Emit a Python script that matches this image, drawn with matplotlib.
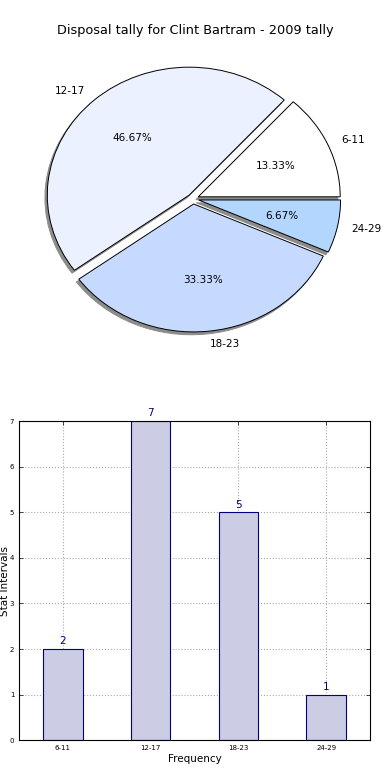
import matplotlib
matplotlib.use("Agg")
import matplotlib.pyplot as plt

# data
intervals = ["6-11", "12-17", "18-23", "24-29"]
counts = [2, 7, 5, 1]
pie_colors = ["#ffffff", "#ebf1ff", "#c6d9ff", "#b3d6ff"]
explode = [0.04, 0.04, 0.04, 0.04]
title = "Disposal tally for Clint Bartram - 2009 tally"

fig = plt.figure(figsize=(3.9, 7.8), dpi=100)
fig.patch.set_facecolor("white")

# pie chart (old-style, not forced circular)
ax1 = fig.add_axes([0.04, 0.54, 0.91, 0.41])
wedges, texts, autotexts = ax1.pie(
    counts, labels=intervals, colors=pie_colors, explode=explode,
    autopct="%1.2f%%", startangle=0,
    shadow=dict(ox=-0.012, oy=-0.016, facecolor="#8c8c8c",
                edgecolor="#8c8c8c", alpha=1.0),
    wedgeprops=dict(edgecolor="black", linewidth=0.7),
    textprops=dict(fontsize=7.5))
ax1.set_aspect("auto")
ax1.set_xlim(-1.25, 1.25)
ax1.set_ylim(-1.25, 1.25)
fig.text(0.5, 0.961, title, ha="center", va="center", fontsize=9.3)

# bar chart
ax2 = fig.add_axes([0.049, 0.051, 0.9, 0.409])
x = list(range(len(intervals)))
bars = ax2.bar(x, counts, width=0.45, color="#ccccE5", edgecolor="navy",
               linewidth=0.8, zorder=2)
for xi, c in zip(x, counts):
    ax2.text(xi, c + 0.06, str(c), ha="center", va="bottom", color="navy",
             fontsize=7.5)
ax2.set_xlim(-0.5, 3.5)
ax2.set_ylim(0, 7)
ax2.set_xticks(x)
ax2.set_xticklabels(intervals)
ax2.set_yticks(range(8))
ax2.tick_params(axis="both", direction="in", labelsize=5, top=True, right=True,
                length=3, width=0.5)
ax2.grid(True, linestyle=":", color="#aaaaaa", linewidth=0.8, zorder=0)
ax2.set_xlabel("Frequency", fontsize=7.5, labelpad=2)
ax2.set_ylabel("Stat Intervals", fontsize=7.5)
ax2.yaxis.set_label_coords(-0.027, 0.5)
for s in ax2.spines.values():
    s.set_linewidth(0.8)

fig.savefig("out.png", dpi=100)
